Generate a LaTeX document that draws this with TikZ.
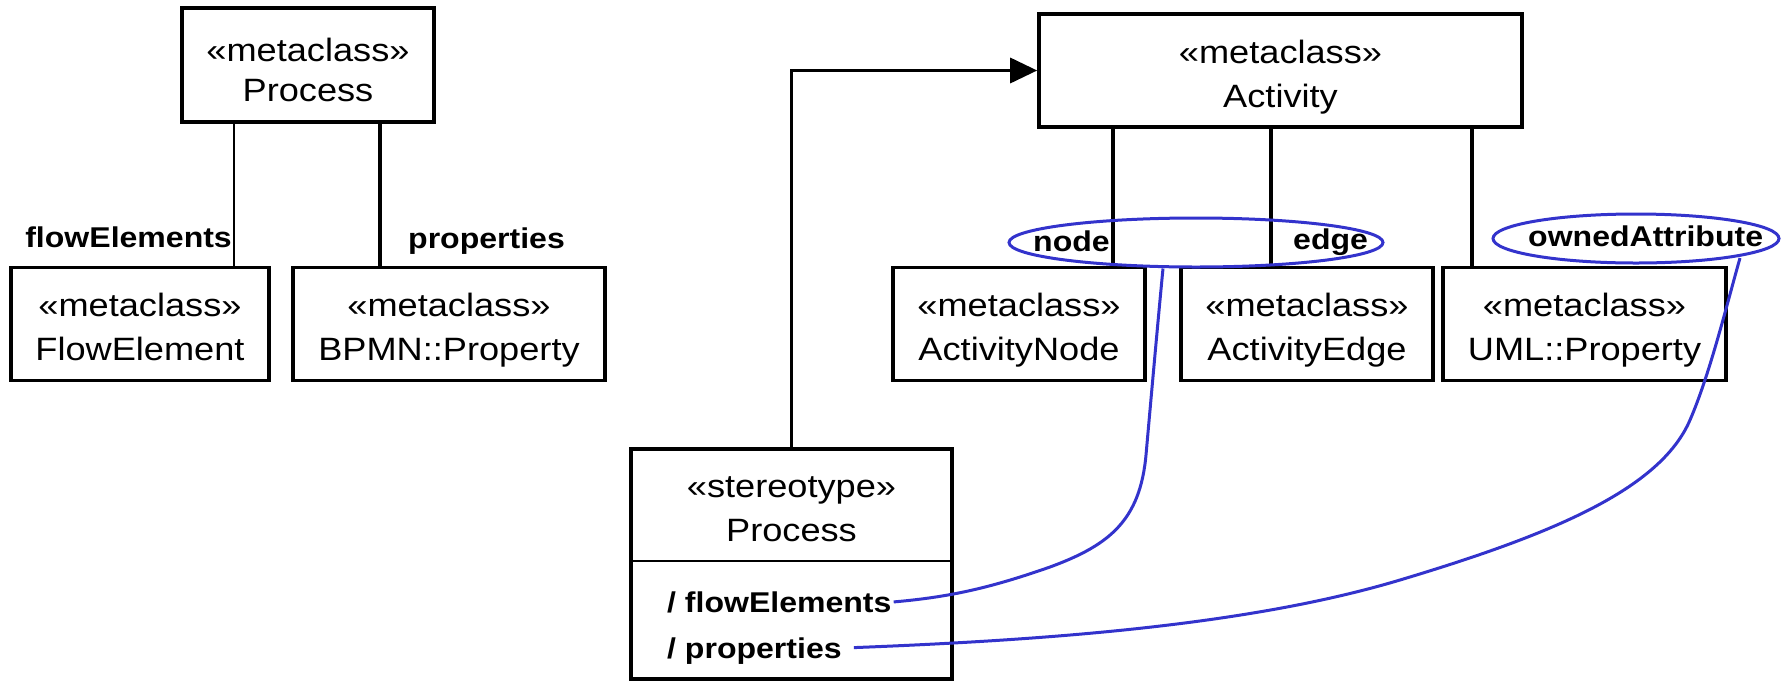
\documentclass[tikz,border=0pt]{standalone}
\usepackage{fontspec}
\setmainfont{Liberation Sans}[FakeStretch=1.12]
\usetikzlibrary{arrows.meta,shapes.geometric,calc}
\definecolor{hlblue}{RGB}{51,51,204}
\begin{document}
\begin{tikzpicture}[x=1pt,y=-1pt,
  box/.style={draw, line width=3.6pt, minimum width=#1, minimum height=113pt, inner sep=0pt},
  txt/.style={anchor=base, inner sep=0pt, font=\fontsize{32.3}{38}\selectfont},
  lab/.style={inner sep=0pt, font=\fontsize{28.6}{34}\selectfont\bfseries},
  assoc/.style={line width=3.2pt},
  thinassoc/.style={line width=1.4pt},
  hl/.style={draw=hlblue, line width=3pt, ellipse, inner sep=0pt},
  hlline/.style={draw=hlblue, line width=3pt},
  arr/.style={line width=3.4pt, -{Triangle[length=27pt,width=25pt]}}]
\useasboundingbox (0,0) rectangle (1781,681);
% left group
\node[box=252pt, minimum height=114pt] (proc) at (308,65) {};
\node[txt] (proct1) at (308,61) {«metaclass»};
\node[txt] (proct2) at (308,101) {Process};
\node[box=258pt] (fe) at (140,324) {};
\node[txt] (fet1) at (140,316) {«metaclass»};
\node[txt] (fet2) at (140,360) {FlowElement};
\node[box=312pt] (bp) at (449,324) {};
\node[txt] (bpt1) at (449,316) {«metaclass»};
\node[txt] (bpt2) at (449,360) {BPMN::Property};
\draw[thinassoc] ([xshift=-74pt]proc.south) -- ([xshift=94pt]fe.north);
\draw[assoc] ([xshift=72pt]proc.south) -- ([xshift=-69pt]bp.north);
\node[lab, anchor=base east] (lfe) at (232,247) {flowElements};
\node[lab, anchor=base west] (lpr) at (408,248) {properties};
% right group
\node[box=483pt] (act) at (1280.5,70.5) {};
\node[txt] (actt1) at (1280.5,63) {«metaclass»};
\node[txt] (actt2) at (1280.5,107) {Activity};
\node[box=252pt] (an) at (1019,324) {};
\node[txt] (ant1) at (1019,316) {«metaclass»};
\node[txt] (ant2) at (1019,360) {ActivityNode};
\node[box=252pt] (ae) at (1307,324) {};
\node[txt] (aet1) at (1307,316) {«metaclass»};
\node[txt] (aet2) at (1307,360) {ActivityEdge};
\node[box=283pt] (up) at (1584.5,324) {};
\node[txt] (upt1) at (1584.5,316) {«metaclass»};
\node[txt] (upt2) at (1584.5,360) {UML::Property};
\draw[assoc] ([xshift=-167.5pt]act.south) -- ([xshift=94pt]an.north);
\draw[assoc] ([xshift=-9.5pt]act.south) -- ([xshift=-36pt]ae.north);
\draw[assoc] ([xshift=191.5pt]act.south) -- ([xshift=-112.5pt]up.north);
\node[lab, anchor=base west] (lnode) at (1033,251) {node};
\node[lab, anchor=base west] (ledge) at (1293,249) {edge};
\node[lab, anchor=base west] (lown) at (1528,246) {ownedAttribute};
\node[hl, minimum width=374pt, minimum height=49pt] (ell1) at (1196,242.5) {};
\node[hl, minimum width=286pt, minimum height=49pt] (ell2) at (1636,238.5) {};
% stereotype
\node[draw, line width=3.6pt, minimum width=321pt, minimum height=230pt, inner sep=0pt] (stp) at (791.5,564) {};
\draw[line width=2.2pt] (stp.west |- 0,561) -- (stp.east |- 0,561);
\node[txt] (stpt1) at (791.5,497) {«stereotype»};
\node[txt] (stpt2) at (791.5,541) {Process};
\node[lab, anchor=base west] (fa) at (667,612) {/ flowElements};
\node[lab, anchor=base west] (pa) at (667,658) {/ properties};
\draw[arr] (stp.north) |- (act.west);
% highlight connectors
\draw[hlline] ($(fa.east)+(2,0)$) .. controls (950,597) and (990,588) .. (1050,567)
  .. controls (1110,545) and (1140,520) .. (1146,455)
  .. controls (1150,410) and (1158,320) .. ([xshift=-33pt]ell1.south);
\draw[hlline] ($(pa.east)+(12,-3)$) .. controls (1050,640) and (1250,625) .. (1400,580)
  .. controls (1550,535) and (1660,490) .. (1690,420)
  .. controls (1710,374) and (1728,300) .. ($(ell2.center)+(104,19.5)$);
\end{tikzpicture}
\end{document}
